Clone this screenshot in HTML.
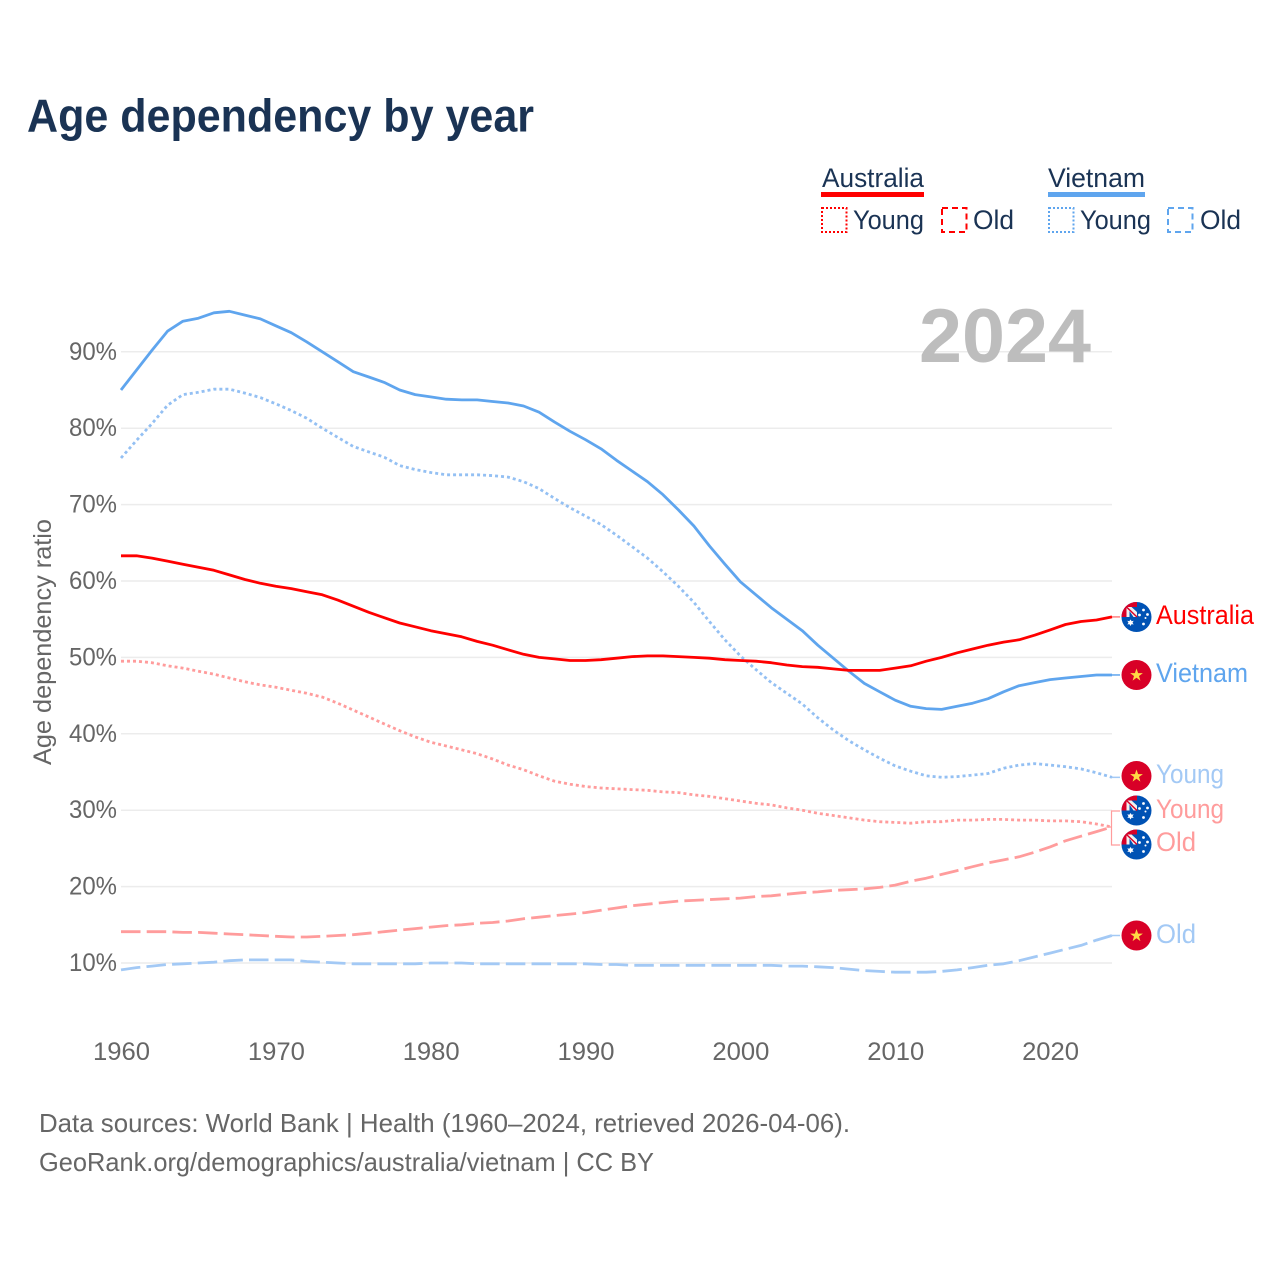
<!DOCTYPE html>
<html lang="en">
<head>
<meta charset="utf-8">
<title>Age dependency by year</title>
<style>
html,body{margin:0;padding:0;background:#fff;}
svg{display:block;font-family:"Liberation Sans",sans-serif;}
.foot,.tick{fill:#666;}
.leg{fill:#1a3354;font-size:27px;}
</style>
</head>
<body>
<svg id="chart" width="1280" height="1280" viewBox="0 0 1280 1280" xmlns="http://www.w3.org/2000/svg">
<defs>
<clipPath id="flag-clip"><circle cx="0" cy="0" r="15"/></clipPath>
<g id="flag-au" clip-path="url(#flag-clip)">
<rect x="-15" y="-15" width="30" height="30" fill="#0052b4"/>
<rect x="-15" y="-15" width="15.5" height="15" fill="#d80027"/>
<rect x="-10" y="-10" width="10.5" height="10" fill="#f0f0f0"/>
<path d="M-10,-10 L0.5,0" stroke="#d80027" stroke-width="1.5"/>
<path d="M-7,-6 V0 H-3 Z" fill="#0052b4"/>
<path d="M-5,-10 H0.5 V-5 Z" fill="#0052b4"/>
<polygon points="-6,2.5 -4.8,4.3 -2.8,3.8 -4,5.7 -2.8,7.5 -4.9,7.1 -6,9 -7.1,7.1 -9.2,7.5 -8,5.7 -9.2,3.8 -7.2,4.3" fill="#fff"/>
<circle cx="7" cy="-7" r="1.4" fill="#fff"/>
<circle cx="3" cy="-2" r="1.4" fill="#fff"/>
<circle cx="11" cy="-2.5" r="1.4" fill="#fff"/>
<circle cx="9" cy="1" r="1" fill="#fff"/>
<circle cx="7" cy="7" r="1.4" fill="#fff"/>
</g>
<g id="flag-vn" clip-path="url(#flag-clip)">
<rect x="-15" y="-15" width="30" height="30" fill="#d80027"/>
<polygon points="0,-6.5 1.6,-1.9 6.4,-1.9 2.5,1 3.9,5.6 0,2.8 -3.9,5.6 -2.5,1 -6.4,-1.9 -1.6,-1.9" fill="#ffda44"/>
</g>
</defs>

<text x="27" y="131.5" font-size="46" font-weight="700" fill="#1a3354" textLength="507" lengthAdjust="spacingAndGlyphs">Age dependency by year</text>

<g>
<text class="leg" x="822" y="187" textLength="102" lengthAdjust="spacingAndGlyphs">Australia</text>
<rect x="821" y="192" width="103" height="5" fill="#ff0000"/>
<text class="leg" x="1048" y="187" textLength="97" lengthAdjust="spacingAndGlyphs">Vietnam</text>
<rect x="1048" y="192" width="97" height="5" fill="#5fa5ee"/>
<rect x="822" y="208" width="24.5" height="24" fill="none" stroke="#ff0000" stroke-width="2" stroke-dasharray="2 2"/>
<text class="leg" x="853" y="229" textLength="71" lengthAdjust="spacingAndGlyphs">Young</text>
<rect x="942" y="208" width="24.5" height="24" fill="none" stroke="#ff0000" stroke-width="2" stroke-dasharray="6 4"/>
<text class="leg" x="973" y="229" textLength="41" lengthAdjust="spacingAndGlyphs">Old</text>
<rect x="1049" y="208" width="24.5" height="24" fill="none" stroke="#5fa5ee" stroke-width="2" stroke-dasharray="2 2"/>
<text class="leg" x="1080" y="229" textLength="71" lengthAdjust="spacingAndGlyphs">Young</text>
<rect x="1168" y="208" width="24.5" height="24" fill="none" stroke="#5fa5ee" stroke-width="2" stroke-dasharray="6 4"/>
<text class="leg" x="1200" y="229" textLength="41" lengthAdjust="spacingAndGlyphs">Old</text>
</g>

<g id="grid"></g>

<text x="919" y="362" font-size="76" font-weight="700" fill="#bdbdbd" textLength="172" lengthAdjust="spacingAndGlyphs">2024</text>

<g id="y-ticks"></g>
<g id="x-ticks"></g>
<text class="tick" transform="translate(51,642) rotate(-90)" text-anchor="middle" font-size="25" textLength="246" lengthAdjust="spacingAndGlyphs">Age dependency ratio</text>

<g id="series"></g>
<g id="connectors"></g>

<g>
<use href="#flag-au" x="1136.5" y="617"/>
<use href="#flag-vn" x="1136.5" y="675"/>
<use href="#flag-vn" x="1136.5" y="776"/>
<use href="#flag-au" x="1136.5" y="810.5"/>
<use href="#flag-au" x="1136.5" y="844.5"/>
<use href="#flag-vn" x="1136.5" y="935.5"/>
<text x="1156" y="624" font-size="27" fill="#ff0000" textLength="98" lengthAdjust="spacingAndGlyphs">Australia</text>
<text x="1156" y="682" font-size="27" fill="#5fa5ee" textLength="92" lengthAdjust="spacingAndGlyphs">Vietnam</text>
<text x="1156" y="783" font-size="27" fill="#a3c9f5" textLength="68" lengthAdjust="spacingAndGlyphs">Young</text>
<text x="1156" y="818" font-size="27" fill="#ff9c9c" textLength="68" lengthAdjust="spacingAndGlyphs">Young</text>
<text x="1156" y="851" font-size="27" fill="#ff9c9c" textLength="40" lengthAdjust="spacingAndGlyphs">Old</text>
<text x="1156" y="943" font-size="27" fill="#a3c9f5" textLength="40" lengthAdjust="spacingAndGlyphs">Old</text>
</g>

<text class="foot" x="39" y="1132" font-size="26" textLength="811" lengthAdjust="spacingAndGlyphs">Data sources: World Bank | Health (1960–2024, retrieved 2026-04-06).</text>
<a><text class="foot" x="39" y="1171" font-size="26" textLength="615" lengthAdjust="spacingAndGlyphs">GeoRank.org/demographics/australia/vietnam | CC BY</text></a>
</svg>

<script>
const startYear = 1960;
const endYear = 2024;
const yTickValues = [10, 20, 30, 40, 50, 60, 70, 80, 90];
const xTickYears = [1960, 1970, 1980, 1990, 2000, 2010, 2020];

const australiaTotal = [63.3,63.3,63.0,62.6,62.2,61.8,61.4,60.8,60.2,59.7,59.3,59.0,58.6,58.2,57.5,56.7,55.9,55.2,54.5,54.0,53.5,53.1,52.7,52.1,51.6,51.0,50.4,50.0,49.8,49.6,49.6,49.7,49.9,50.1,50.2,50.2,50.1,50.0,49.9,49.7,49.6,49.5,49.3,49.0,48.8,48.7,48.5,48.3,48.3,48.3,48.6,48.9,49.5,50.0,50.6,51.1,51.6,52.0,52.3,52.9,53.6,54.3,54.7,54.9,55.3];
const australiaYoung = [49.5,49.5,49.3,48.9,48.6,48.2,47.8,47.3,46.8,46.4,46.1,45.7,45.3,44.8,44.0,43.1,42.2,41.3,40.4,39.6,38.9,38.4,37.9,37.4,36.7,35.9,35.3,34.5,33.8,33.4,33.1,32.9,32.8,32.7,32.6,32.4,32.3,32.0,31.8,31.5,31.2,30.9,30.7,30.3,30.0,29.6,29.3,29.0,28.7,28.5,28.4,28.3,28.5,28.5,28.7,28.7,28.8,28.8,28.7,28.7,28.6,28.6,28.5,28.2,27.8];
const australiaOld = [14.1,14.1,14.1,14.1,14.0,14.0,13.9,13.8,13.7,13.6,13.5,13.4,13.4,13.5,13.6,13.7,13.9,14.1,14.3,14.5,14.7,14.9,15.0,15.2,15.3,15.5,15.8,16.0,16.2,16.4,16.6,16.9,17.2,17.5,17.7,17.9,18.1,18.2,18.3,18.4,18.5,18.7,18.8,19.0,19.2,19.3,19.5,19.6,19.7,19.9,20.2,20.7,21.1,21.6,22.1,22.6,23.1,23.5,23.9,24.5,25.2,26.0,26.6,27.2,27.8];
const vietnamTotal = [85.0,87.6,90.2,92.7,94.0,94.4,95.1,95.3,94.8,94.3,93.4,92.5,91.3,90.0,88.7,87.4,86.7,86.0,85.0,84.4,84.1,83.8,83.7,83.7,83.5,83.3,82.9,82.1,80.8,79.6,78.5,77.3,75.8,74.4,73.0,71.3,69.3,67.2,64.6,62.2,59.9,58.2,56.5,55.0,53.5,51.6,49.9,48.2,46.6,45.5,44.4,43.6,43.3,43.2,43.6,44.0,44.6,45.5,46.3,46.7,47.1,47.3,47.5,47.7,47.7];
const vietnamYoung = [76.1,78.4,80.6,83.0,84.4,84.7,85.1,85.1,84.6,84.0,83.2,82.3,81.3,80.0,78.8,77.6,76.9,76.2,75.1,74.6,74.2,73.9,73.9,73.9,73.8,73.6,73.0,72.1,70.8,69.6,68.5,67.4,66.0,64.5,63.0,61.2,59.3,57.2,54.7,52.3,50.2,48.4,46.7,45.3,43.9,42.1,40.5,39.1,37.9,36.8,35.8,35.1,34.5,34.3,34.4,34.6,34.8,35.5,35.9,36.1,35.9,35.7,35.4,34.9,34.3];
const vietnamOld = [9.1,9.4,9.6,9.8,9.9,10.0,10.1,10.3,10.4,10.4,10.4,10.4,10.2,10.1,10.0,9.9,9.9,9.9,9.9,9.9,10.0,10.0,10.0,9.9,9.9,9.9,9.9,9.9,9.9,9.9,9.9,9.8,9.8,9.7,9.7,9.7,9.7,9.7,9.7,9.7,9.7,9.7,9.7,9.6,9.6,9.5,9.4,9.2,9.0,8.9,8.8,8.8,8.8,8.9,9.1,9.4,9.7,9.9,10.3,10.8,11.3,11.8,12.3,13.0,13.6];

const NS = 'http://www.w3.org/2000/svg';
function xScale(year) { return 121 + (year - startYear) * (1112 - 121) / (endYear - startYear); }
function yScale(value) { return 963 - (value - 10) * 7.64; }
function make(tag, attrs, parent) {
  const el = document.createElementNS(NS, tag);
  for (const k in attrs) el.setAttribute(k, attrs[k]);
  parent.appendChild(el);
  return el;
}

const grid = document.getElementById('grid');
const yTicks = document.getElementById('y-ticks');
const xTicks = document.getElementById('x-ticks');
const seriesGroup = document.getElementById('series');
const connectors = document.getElementById('connectors');

yTickValues.forEach(function (v) {
  const line = make('line', {x1: 121, x2: 1112, y1: yScale(v), y2: yScale(v), stroke: '#ececec', 'stroke-width': 1.5}, grid);
  
  
  const label = make('text', {x: 117, y: yScale(v) + 8, 'text-anchor': 'end', 'font-size': 25, class: 'tick', textLength: 48, lengthAdjust: 'spacingAndGlyphs'}, yTicks);
  label.textContent = v + '%';
  
  
});

xTickYears.forEach(function (yr) {
  const label = make('text', {x: xScale(yr) + 0.5, y: 1060, 'text-anchor': 'middle', 'font-size': 25, class: 'tick', textLength: 57, lengthAdjust: 'spacingAndGlyphs'}, xTicks);
  label.textContent = yr;
  
  
});

function linePath(values) {
  return values.map(function (v, i) {
    return (i ? 'L' : 'M') + xScale(startYear + i).toFixed(1) + ',' + yScale(v).toFixed(1);
  }).join(' ');
}

function drawSeries(values, color, dash, width, name) {
  const p = make('path', {d: linePath(values), fill: 'none', stroke: color, 'stroke-width': width, 'stroke-linejoin': 'round'}, seriesGroup);
  if (dash) p.setAttribute('stroke-dasharray', dash);
  
  
}

function drawConnector(values, color) {
  const y = yScale(values[values.length - 1]);
  const c = make('line', {x1: 1112, x2: 1120, y1: y, y2: y, stroke: color, 'stroke-width': 1.5}, connectors);
  
  
}

drawSeries(vietnamOld, '#a3c9f5', '19.5 6.2', 2.8, 'line-vietnam-old');
drawSeries(australiaOld, '#ff9c9c', '19.5 6.2', 2.8, 'line-australia-old');
drawSeries(vietnamYoung, '#94c0f3', '3 3', 2.8, 'line-vietnam-young');
drawSeries(australiaYoung, '#ff9c9c', '3 3', 2.8, 'line-australia-young');
drawSeries(vietnamTotal, '#5fa5ee', '', 2.8, 'line-vietnam-total');
drawSeries(australiaTotal, '#ff0000', '', 2.8, 'line-australia-total');

drawConnector(australiaTotal, '#ff8080');
drawConnector(vietnamTotal, '#5fa5ee');
drawConnector(vietnamYoung, '#a3c9f5');
drawConnector(vietnamOld, '#a3c9f5');

const bracketY = yScale(australiaOld[australiaOld.length - 1]);
const bracket = make('path', {d: 'M1120,811 H1111.5 V845 H1120 M1107,' + bracketY.toFixed(1) + ' H1111.5', fill: 'none', stroke: '#ff9c9c', 'stroke-width': 1.2}, connectors);


</script>
</body>
</html>
